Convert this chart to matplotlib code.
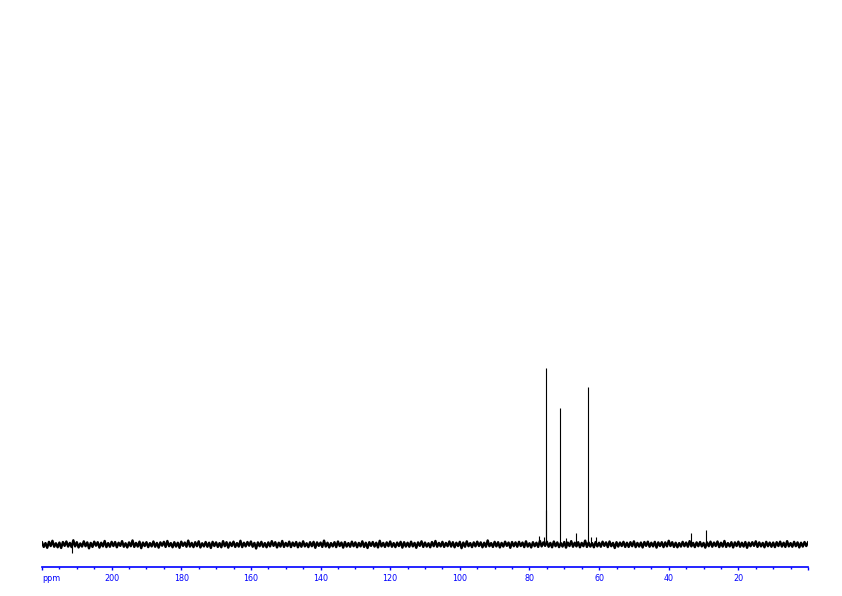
import numpy as np
import matplotlib
matplotlib.use('Agg')
import matplotlib.pyplot as plt

# 13C spectrum, 220 -> 0 ppm; intensities relative to the tallest peak (=100)
ppm_start = 220.0
ppm_end = 0.0

# baseline noise, one value every 0.5 ppm from 220 down to 0
noise = [
    1.2, -1.4, 0.8, -1.9, 1.5, -0.9, 2.1, -1.3, 0.7, -1.6, 1.1, -2.0, 1.4, -0.8, 1.7, -1.2, 0.9, -1.5, 2.4, -1.1, 1.3,
    -1.7, 0.6, -1.2, 1.8, -1.0, 1.2, -2.2, 0.9, -1.4, 1.6, -0.7, 1.3, -1.8, 1.0, -1.1, 2.0, -1.5, 0.8, -1.3, 1.5, -0.9,
    1.4, -1.6, 1.0, -0.8, 1.9, -1.3, 0.7, -1.7, 1.2, -1.0, 2.3, -1.4, 0.9, -1.2, 1.6, -2.1, 1.1, -0.9, 1.3, -1.5, 0.8,
    -1.1, 1.7, -1.3, 0.9, -1.8, 1.2, -0.7, 1.5, -1.4, 2.0, -1.0, 0.8, -1.6, 1.3, -1.2, 1.0, -1.9, 1.6, -0.8, 1.1, -1.3,
    2.2, -1.2, 0.9, -1.5, 1.3, -1.0, 1.8, -1.7, 0.7, -1.1, 1.4, -1.3, 1.0, -2.0, 1.5, -0.9, 1.2, -1.4, 0.8, -1.6, 1.9,
    -1.0, 1.3, -1.8, 1.1, -0.9, 1.6, -1.4, 0.8, -1.2, 2.1, -1.5, 1.0, -1.1, 1.4, -0.7, 1.7, -1.3, 0.9, -2.3, 1.2, -1.0,
    1.5, -1.3, 0.8, -1.6, 1.2, -1.1, 1.9, -0.8, 1.3, -1.7, 1.0, -1.2, 2.0, -1.4, 0.9, -1.0, 1.6, -1.5, 1.1, -0.9, 1.4,
    -1.6, 1.0, -1.3, 1.8, -1.1, 0.7, -1.5, 1.3, -1.0, 1.5, -1.9, 1.2, -0.8, 1.1, -1.4, 2.2, -1.2, 1.0, -1.7, 0.8, -1.1,
    1.3, -1.5, 1.7, -0.9, 1.1, -1.8, 1.4, -1.2, 0.8, -1.3, 1.6, -1.0, 1.2, -1.6, 0.9, -1.1, 1.8, -1.4, 1.0, -2.0, 1.3,
    -0.8, 1.4, -1.2, 1.0, -1.7, 2.1, -1.1, 0.9, -1.4, 1.2, -1.0, 1.7, -1.3, 0.8, -1.5, 1.1, -0.9, 1.5, -1.8, 1.3, -1.2,
    1.0, -1.3, 1.6, -1.1, 0.9, -1.9, 1.2, -0.8, 1.8, -1.4, 1.1, -1.2, 0.7, -1.6, 1.4, -1.0, 2.0, -1.3, 0.9, -1.1, 1.5,
    -1.4, 0.9, -1.0, 1.7, -1.2, 1.3, -1.6, 1.0, -0.9, 1.5, -2.1, 1.1, -1.3, 1.8, -1.0, 0.8, -1.5, 1.2, -1.1, 1.6, -0.9,
    1.2, -1.6, 1.0, -1.3, 2.3, -1.0, 0.8, -1.4, 1.5, -1.1, 1.3, -1.7, 0.9, -1.2, 1.6, -0.8, 1.1, -1.9, 1.4, -1.0, 1.2,
    -1.3, 1.5, -0.9, 1.1, -1.5, 1.8, -1.2, 0.7, -1.7, 1.3, -1.0, 1.0, -1.4, 2.0, -1.1, 1.2, -0.8, 1.6, -1.3, 0.9, -1.6,
    1.7, -1.0, 1.2, -1.5, 0.8, -1.2, 1.4, -1.8, 1.1, -0.9, 1.9, -1.3, 1.0, -1.1, 1.3, -1.6, 0.9, -1.0, 2.2, -1.4, 1.1,
    -1.2, 0.8, -1.6, 1.4, -1.1, 1.0, -1.3, 1.6, -0.8, 1.2, -1.5, 1.7, -1.0, 0.9, -2.0, 1.3, -1.2, 1.1, -0.9, 1.5, -1.4,
    1.0, -1.4, 1.3, -1.0, 1.8, -1.5, 0.9, -1.2, 1.1, -1.7, 1.4, -0.8, 1.6, -1.3, 1.0, -1.1, 1.5, -1.8, 1.2, -0.9, 1.3,
    -1.5, 1.2, -1.1, 2.1, -0.9, 1.3, -1.4, 1.0, -1.6, 0.8, -1.2, 1.5, -1.0, 1.1, -1.3, 1.9, -1.1, 0.9, -1.5, 1.2, -1.0,
    1.4, -1.1, 0.9, -1.8, 1.2, -1.0, 1.6, -1.3, 1.1, -0.9, 1.7, -1.5, 1.0, -1.2, 2.0, -1.4, 0.8, -1.1, 1.3, -1.7, 1.2,
    -0.9, 1.6, -1.3, 1.0, -1.2, 1.4, -1.9, 1.1, -1.0, 1.3, -0.8, 1.8, -1.4, 1.2, -1.1, 0.9, -1.6, 1.5, -1.0, 1.1, -1.3,
    1.1, -1.5, 1.3, -0.9, 1.6, -1.2, 1.0, -1.4, 1.9, -1.1, 0.8, -1.3, 1.5, -1.0, 1.2, -1.7, 1.0, -1.2, 1.4, -0.9, 1.2,
]

# peaks (ppm, relative height)
peak_ppm = [211.3, 77.16, 75.81, 75.32, 75.15, 71.13, 69.41, 66.62, 63.09, 62.31, 60.79, 33.50, 29.19]
peak_height = [-5.0, 5.0, 4.5, 100.0, 19.5, 77.5, 3.4, 6.4, 89.5, 4.5, 4.5, 6.4, 8.5]

tick_major = [220, 200, 180, 160, 140, 120, 100, 80, 60, 40, 20, 0]
tick_labels = ['ppm', '200', '180', '160', '140', '120', '100', '80', '60', '40', '20', '']
tick_minor = np.arange(0, 221, 5)

blue = '#0000ff'

fig = plt.figure(figsize=(8.42, 5.96), dpi=100)
ax = fig.add_axes([42 / 842, 29 / 596, 766 / 842, 567 / 596])

ppm_noise = np.linspace(ppm_start, ppm_end, len(noise))
ax.plot(ppm_noise, noise, color='black', lw=1.7)
ax.vlines(peak_ppm, 0, peak_height, color='black', lw=0.8)

ax.set_xlim(ppm_start, ppm_end)
ax.set_ylim(-12.8, 309.4)

for s in ['top', 'left', 'right']:
    ax.spines[s].set_visible(False)
ax.spines['bottom'].set_color(blue)
ax.spines['bottom'].set_linewidth(1.2)
ax.set_yticks([])

ax.set_xticks(tick_major)
ax.set_xticklabels(tick_labels)
ax.set_xticks(tick_minor, minor=True)
ax.tick_params(axis='x', which='major', colors=blue, length=2.5, width=1.0,
               labelsize=5.8, pad=2.5)
ax.tick_params(axis='x', which='minor', colors=blue, length=1.2, width=1.0)
ax.get_xticklabels()[0].set_horizontalalignment('left')

fig.savefig('out.png', dpi=100)
